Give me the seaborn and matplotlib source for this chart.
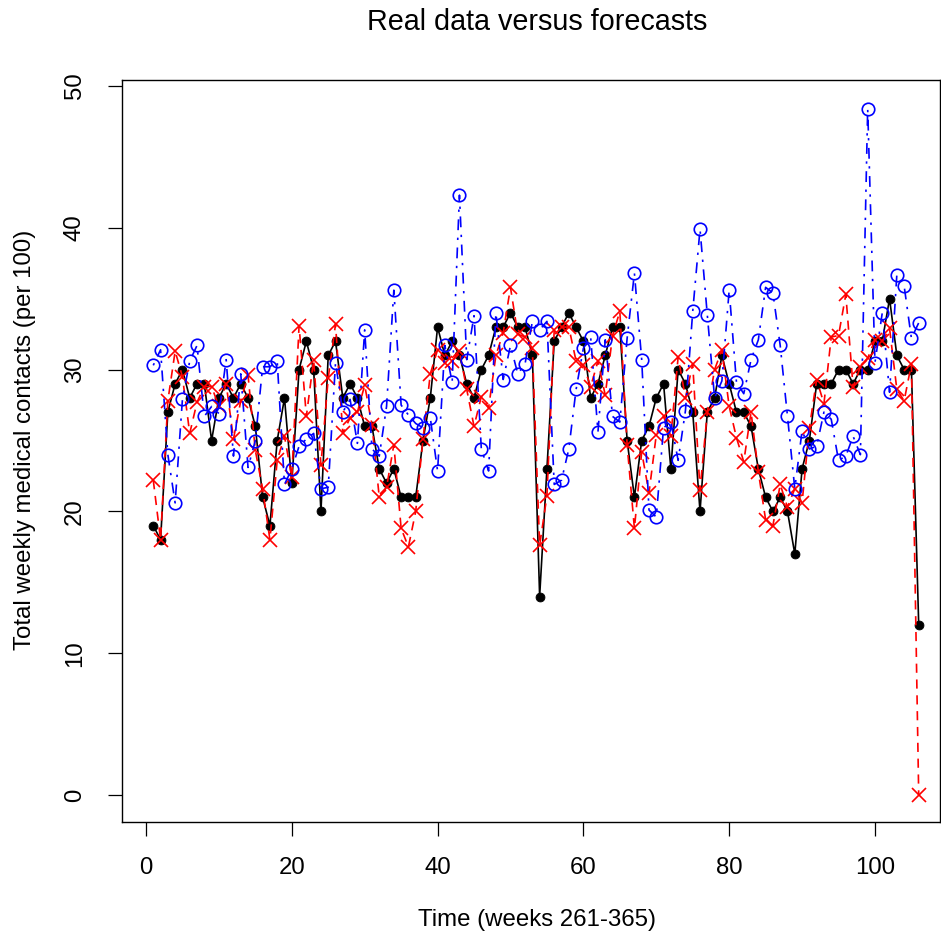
import matplotlib
matplotlib.use("Agg")
import matplotlib.pyplot as plt
import seaborn as sns
import numpy as np
import pandas as pd

# Weekly medical contacts (per 100), weeks 261-365
weeks = list(range(1, 107))

real = [19, 18, 27, 29, 30, 28, 29, 29, 25, 28,
        29, 28, 29, 28, 26, 21, 19, 25, 28, 22,
        30, 32, 30, 20, 31, 32, 28, 29, 28, 26,
        26, 23, 22, 23, 21, 21, 21, 25, 28, 33,
        31, 32, 31, 29, 28, 30, 31, 33, 33, 34,
        33, 33, 31, 14, 23, 32, 33, 34, 33, 32,
        28, 29, 31, 33, 33, 25, 21, 25, 26, 28,
        29, 23, 30, 29, 27, 20, 27, 28, 31, 29,
        27, 27, 26, 23, 21, 20, 21, 20, 17, 23,
        25, 29, 29, 29, 30, 30, 29, 30, 30, 32,
        32, 35, 31, 30, 30, 12]

forecast_a = [22.2, 18.0, 27.8, 31.3, 29.5, 25.5, 27.7, 28.8, 28.8, 27.4,
              29.0, 25.1, 27.8, 29.6, 24.3, 21.6, 18.0, 23.6, 25.3, 22.4,
              33.1, 26.7, 30.7, 23.3, 29.4, 33.2, 25.5, 26.6, 27.0, 28.9,
              26.1, 21.0, 21.7, 24.7, 18.8, 17.5, 20.0, 25.1, 29.7, 31.4,
              30.5, 30.6, 31.3, 28.6, 26.0, 28.1, 27.3, 31.0, 32.6, 35.8,
              32.5, 32.3, 31.5, 17.6, 21.1, 32.8, 33.0, 33.0, 30.6, 30.3,
              28.8, 30.6, 28.2, 32.4, 34.1, 24.7, 18.8, 24.2, 21.3, 25.4,
              26.7, 25.3, 30.9, 28.0, 30.4, 21.5, 27.0, 30.0, 31.4, 27.4,
              25.2, 23.5, 27.0, 22.8, 19.4, 19.0, 21.9, 20.3, 21.6, 20.6,
              25.9, 29.3, 27.6, 32.3, 32.4, 35.3, 28.75, 30.2, 30.8, 32.1,
              32.0, 32.9, 28.6, 27.8, 30.4, 0.0]

forecast_b = [30.3, 31.4, 24.0, 20.6, 27.9, 30.6, 31.7, 26.7, 27.4, 26.9,
              30.7, 23.9, 29.7, 23.1, 25.0, 30.2, 30.2, 30.6, 21.9, 23.0,
              24.6, 25.1, 25.5, 21.6, 21.7, 30.5, 27.0, 27.9, 24.8, 32.8,
              24.4, 23.9, 27.4, 35.6, 27.5, 26.8, 26.2, 25.9, 26.6, 22.85,
              31.7, 29.1, 42.3, 30.7, 33.8, 24.4, 22.85, 34.0, 29.3, 31.7,
              29.7, 30.4, 33.4, 32.8, 33.4, 21.9, 22.2, 24.4, 28.6, 31.5,
              32.3, 25.6, 32.1, 26.7, 26.3, 32.2, 36.8, 30.7, 20.1, 19.6,
              25.9, 26.3, 23.6, 27.1, 34.1, 39.9, 33.85, 28.0, 29.2, 35.6,
              29.1, 28.3, 30.7, 32.1, 35.8, 35.4, 31.7, 26.7, 21.6, 25.7,
              24.4, 24.6, 27.0, 26.5, 23.6, 23.9, 25.3, 24.0, 48.4, 30.5,
              34.0, 28.4, 36.7, 35.9, 32.2, 33.3]

x_ticks = [0, 20, 40, 60, 80, 100]
y_ticks = [0, 10, 20, 30, 40, 50]

df = pd.DataFrame({"week": weeks, "real": real,
                   "fa": forecast_a, "fb": forecast_b})

sns.set_style("ticks")
plt.rcParams["font.family"] = ["Liberation Sans", "DejaVu Sans"]
plt.rcParams["text.color"] = "black"

W, H = 941, 938
fig = plt.figure(figsize=(W / 100, H / 100), dpi=100)
left, right, top, bottom = 122, 940, 80, 822
ax = fig.add_axes([left / W, 1 - bottom / H, (right - left) / W, (bottom - top) / H])

sns.lineplot(data=df, x="week", y="real", ax=ax, color="black",
             linewidth=1.2, marker="o", markersize=6.4,
             markerfacecolor="black", markeredgecolor="black",
             markeredgewidth=0.6, zorder=3)
sns.lineplot(data=df, x="week", y="fa", ax=ax, color="#FF0000",
             linewidth=1.2, linestyle=(0, (5.5, 4)), marker="x",
             markersize=9.5, markeredgecolor="#FF0000",
             markeredgewidth=1.2, zorder=4)
sns.lineplot(data=df, x="week", y="fb", ax=ax, color="#0000FF",
             linewidth=1.2, linestyle=(0, (1.4, 4.5, 6.5, 4.5)), marker="o",
             markersize=9.0, markerfacecolor="none",
             markeredgecolor="#0000FF", markeredgewidth=1.2, zorder=5)

ax.set_xlim(-3.29, 108.92)
ax.set_ylim(-1.90, 50.42)
ax.set_xticks(x_ticks)
ax.set_yticks(y_ticks)
ax.set_xticklabels([str(v) for v in x_ticks])
ax.set_yticklabels([str(v) for v in y_ticks], rotation=90, va="center")

for s in ax.spines.values():
    s.set_visible(True)
    s.set_linewidth(1.0)
    s.set_color("black")

ax.tick_params(axis="both", direction="out", length=10, width=0.9,
               labelsize=17.3, colors="black")
ax.tick_params(axis="x", pad=15)
ax.tick_params(axis="y", pad=16)

ax.set_xlabel("")
ax.set_ylabel("")
fig.text(537.5 / W, 1 - 920 / H, "Time (weeks 261-365)", ha="center",
         va="center", fontsize=17.3, color="black")
fig.text(25 / W, 1 - 440 / H, "Total weekly medical contacts (per 100)",
         ha="center", va="center", rotation=90, fontsize=17.3, color="black")
fig.text(537.5 / W, 1 - 22 / H, "Real data versus forecasts", ha="center",
         va="center", fontsize=20.7, color="black")

fig.savefig("out.png", dpi=100)
